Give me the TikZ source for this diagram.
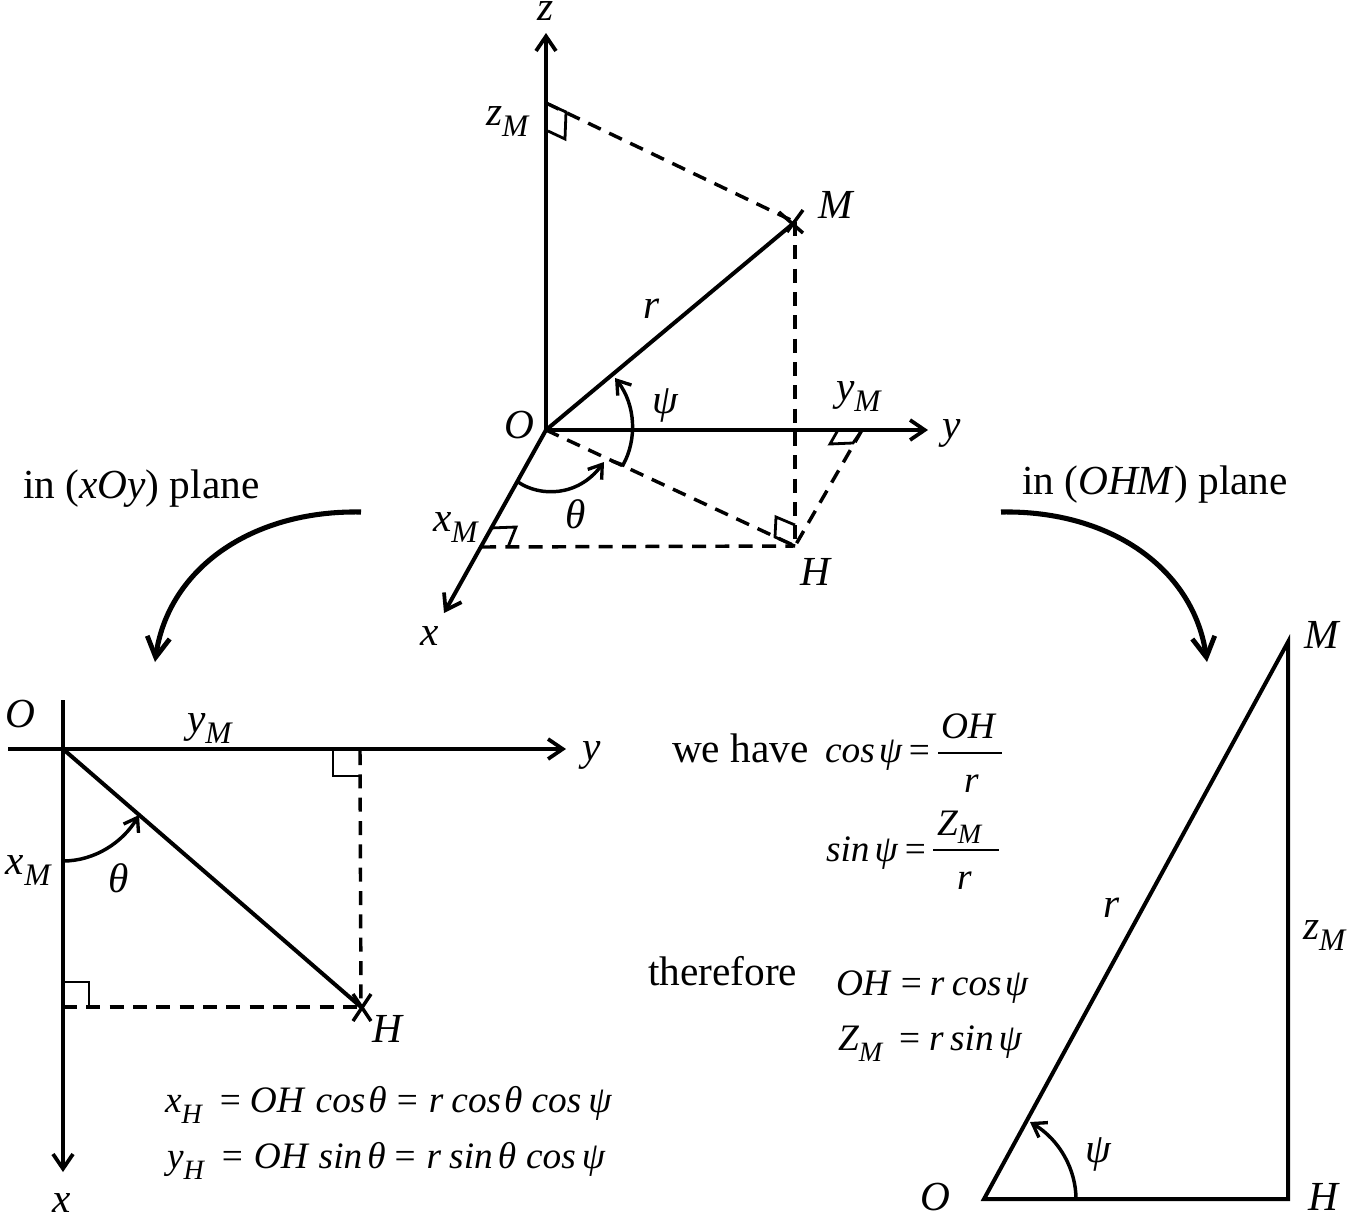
\documentclass[tikz,border=0pt]{standalone}
\usepackage{fontspec}
\setmainfont{Liberation Serif}
\usetikzlibrary{arrows.meta}
\newcommand{\lowM}[1]{\raisebox{-.28em}{\fontsize{23.5}{23.5}\selectfont\textit{#1}}}
\newcommand{\lowE}[1]{\raisebox{-.3em}{\fontsize{21}{21}\selectfont\textit{#1}}}
\newcommand{\lowF}[1]{\raisebox{-.22em}{\fontsize{21}{21}\selectfont\textit{#1}}}
\newcommand{\hh}[1]{\hspace{#1\dimexpr 0.75pt\relax}}
\newcommand{\eqs}{{\upshape =}}
\tikzset{
  main/.style={line width=3pt,line cap=butt},
  thinl/.style={line width=2.1pt},
  arcl/.style={line width=2.6pt},
  dashl/.style={line width=2.6pt,dash pattern=on 10.5pt off 7pt},
  barb/.style={-{Straight Barb[length=11pt,width=15pt,line width=2.8pt]}},
  arcbarb/.style={-{Straight Barb[length=9.5pt,width=13pt,line width=2.5pt]}},
  swoop/.style={line width=3.8pt,-{Straight Barb[length=15pt,width=17pt,line width=3.6pt]}},
  plain/.style={font=\fontsize{31}{31}\selectfont,anchor=base west,inner sep=0pt,outer sep=0pt},
  lab/.style={plain,font=\fontsize{31}{31}\selectfont\itshape},
  eqn/.style={plain,font=\fontsize{28}{28}\selectfont\itshape},
}
\begin{document}
\begin{tikzpicture}[x=0.75pt,y=-0.75pt]
\useasboundingbox (0,0) rectangle (1350,1218);
% top diagram points
\coordinate (O) at (546,430);
\coordinate (Ztip) at (546,33);
\coordinate (Ytip) at (928,430);
\coordinate (Xtip) at (444,613);
\coordinate (M) at (795,222);
\coordinate (H) at (795,546);
\coordinate (Zm) at (546,103);
\coordinate (Ym) at (862,430);
\coordinate (Xm) at (482,547);
\draw[main,barb] (O) -- (Ztip);
\draw[main,barb] (O) -- (Ytip);
\draw[main,barb] (O) -- (Xtip);
\draw[main] (O) -- (M);
\draw[dashl] (Zm) -- (M);
\draw[dashl] (M) -- (H);
\draw[dashl] (O) -- (H);
\draw[dashl] (Xm) -- (H);
\draw[dashl] (Ym) -- (H);
\coordinate (Mc1) at (787,232);
\coordinate (Mc2) at (803,210);
\coordinate (Mc3) at (779,212);
\coordinate (Mc4) at (803,233);
\draw[main,line width=2.6pt] (Mc1) -- (Mc2);
\draw[main,line width=2.6pt] (Mc3) -- (Mc4);
% right-angle marks
\coordinate (a1) at (566,112); \coordinate (a2) at (565,139); \coordinate (a3) at (548,131);
\draw[thinl] (Zm) -- (a1) -- (a2) -- (a3);
\coordinate (b1) at (490,528); \coordinate (b2) at (516,527); \coordinate (b3) at (508,547);
\draw[thinl] (b1) -- (b2) -- (b3);
\coordinate (c1) at (853,443); \coordinate (c2) at (830,444); \coordinate (c3) at (838,430);
\draw[thinl] (Ym) -- (c1) -- (c2) -- (c3);
\coordinate (d1) at (795,525); \coordinate (d2) at (776,517); \coordinate (d3) at (775,537);
\draw[thinl] (d1) -- (d2) -- (d3) -- (H);
% angle arcs
\coordinate (p0) at (623,465); \coordinate (p00) at (612,461); \coordinate (p1) at (615,378);
\draw[arcl,arcbarb] (p00) -- (p0) .. controls (637,440) and (636,405) .. (p1);
\coordinate (t0) at (518,482); \coordinate (t1) at (604,462);
\draw[arcl,arcbarb] (t0) .. controls (540,497) and (578,497) .. (t1);
% swoops
\coordinate (s1) at (361,512); \coordinate (s2) at (155,662);
\coordinate (s3) at (1001,512); \coordinate (s4) at (1207,662);
\draw[swoop] (s1) .. controls (250,510) and (168,570) .. (s2);
\draw[swoop] (s3) .. controls (1112,510) and (1194,570) .. (s4);
% left diagram
\coordinate (LO) at (63,749);
\coordinate (Lxs) at (63,700); \coordinate (Lxe) at (63,1172);
\coordinate (Lys) at (8,749); \coordinate (Lye) at (566,749);
\coordinate (LH) at (361,1007);
\coordinate (Lh1) at (360,751); \coordinate (Lh2) at (63,1007);
\draw[main,barb] (Lxs) -- (Lxe);
\draw[main,barb] (Lys) -- (Lye);
\draw[main] (LO) -- (LH);
\draw[dashl] (Lh1) -- (LH);
\draw[dashl] (Lh2) -- (LH);
\coordinate (Lc1) at (353,1021); \coordinate (Lc2) at (371,994);
\coordinate (Lc3) at (353,994); \coordinate (Lc4) at (371,1021);
\draw[main,line width=2.6pt] (Lc1) -- (Lc2);
\draw[main,line width=2.6pt] (Lc3) -- (Lc4);
\coordinate (e1) at (333,749); \coordinate (e2) at (333,776); \coordinate (e3) at (360,776);
\draw[thinl] (e1) -- (e2) -- (e3);
\coordinate (f1) at (63,982); \coordinate (f2) at (89,982); \coordinate (f3) at (89,1007);
\draw[thinl] (f1) -- (f2) -- (f3);
\coordinate (g0) at (63,861); \coordinate (g1) at (139,815);
\draw[arcl,arcbarb] (g0) .. controls (95,861) and (123,842) .. (g1);
% right diagram
\coordinate (RO) at (984,1199); \coordinate (RH) at (1288,1199); \coordinate (RM) at (1288,642);
\draw[main] (RO) -- (RH) -- (RM) -- cycle;
\coordinate (k0) at (1076,1199); \coordinate (k1) at (1030,1122);
\draw[arcl,arcbarb] (k0) .. controls (1076,1170) and (1060,1140) .. (k1);
% fractions
\coordinate (fr1a) at (938,753); \coordinate (fr1b) at (1002,753);
\coordinate (fr2a) at (933,850); \coordinate (fr2b) at (999,850);
\draw[line width=1.6pt] (fr1a) -- (fr1b);
\draw[line width=1.6pt] (fr2a) -- (fr2b);
% labels: top
\node[lab] (tz) at (537,20) {z};
\node[lab] (tzm) at (486,125) {z\lowM{M}};
\node[lab] (tM) at (818,218) {M};
\node[lab] (tr) at (643,318) {r};
\node[lab] (tpsi) at (652,413) {ψ};
\node[lab] (tO) at (504,438) {O};
\node[lab] (tym) at (836,400) {y\lowM{M}};
\node[lab] (ty) at (942,438) {y};
\node[lab] (tth) at (565,528) {θ};
\node[lab] (txm) at (433,531) {x\lowM{M}};
\node[lab] (tH) at (800,585) {H};
\node[lab] (tx) at (420,645) {x};
\node[plain] (pl1) at (23,498) {in (\textit{xOy}) plane};
\node[plain] (pl2) at (1022,494) {in (\textit{OHM}) plane};
% labels: left
\node[lab] (lO) at (6,727) {O};
\node[lab] (lym) at (187,732) {y\lowM{M}};
\node[lab] (ly) at (582,760) {y};
\node[lab] (lxm) at (6,874) {x\lowM{M}};
\node[lab] (lth) at (108,892) {θ};
\node[lab] (lH) at (372,1042) {H};
\node[lab] (lx) at (52,1212) {x};
% labels: right
\node[lab] (rM) at (1304,648) {M};
\node[lab] (rr) at (1103,917) {r};
\node[lab] (rzm) at (1303,939) {z\lowM{M}};
\node[lab] (rpsi) at (1085,1162) {ψ};
\node[lab] (rO) at (920,1210) {O};
\node[lab] (rH) at (1308,1210) {H};
% equations
\node[plain] (we) at (672,762) {we have};
\node[eqn] (e1n) at (825,762) {cos\hh{4}ψ\hh{7}\eqs};
\node[eqn] (e1t) at (941,738) {OH};
\node[eqn] (e1b) at (964,792) {r};
\node[eqn] (e2n) at (826,861) {sin\hh{5}ψ\hh{7}\eqs};
\node[eqn] (e2t) at (937,835) {Z\lowF{M}};
\node[eqn] (e2b) at (957,889) {r};
\node[plain] (th) at (648,985) {therefore};
\node[eqn] (e3) at (836,995) {OH\hh{11}\eqs\hh{8}r\hh{7.5}cos\hh{3}ψ};
\node[eqn] (e4) at (838,1050) {Z\lowE{M}\hh{17}\eqs\hh{9}r\hh{6.5}sin\hh{5}ψ};
\node[eqn] (e5) at (165,1112) {x\lowE{H}\hh{18}\eqs\hh{9}OH\hh{12}cos\hh{3}θ\hh{10}\eqs\hh{11}r\hh{8}cos\hh{3}θ\hh{9}cos\hh{7}ψ};
\node[eqn] (e6) at (167,1168) {y\lowE{H}\hh{18}\eqs\hh{11}OH\hh{11}sin\hh{5}θ\hh{9}\eqs\hh{11}r\hh{8}sin\hh{5}θ\hh{10}cos\hh{6}ψ};
\end{tikzpicture}
\end{document}
